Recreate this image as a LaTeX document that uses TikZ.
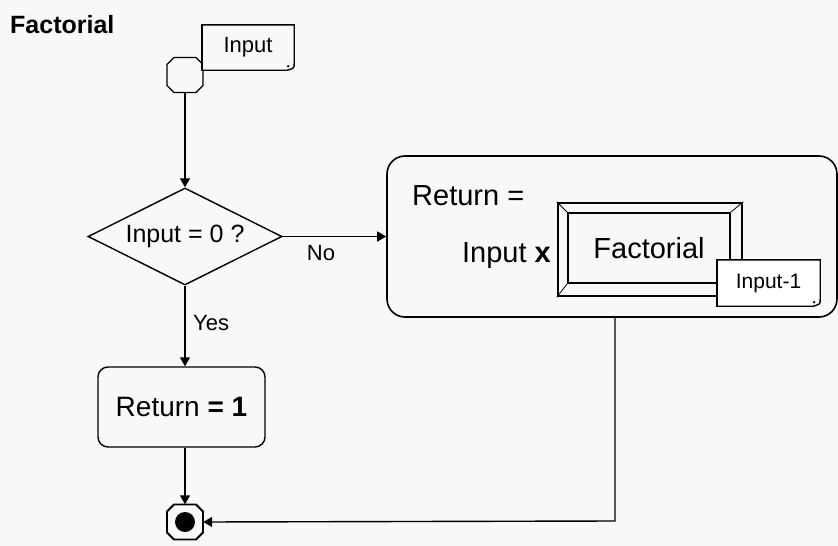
\documentclass[tikz,border=0pt]{standalone}
\usepackage{fontspec}
\setmainfont{Liberation Sans}
\usetikzlibrary{shapes.geometric,arrows.meta}
\definecolor{bgc}{HTML}{F8F8F6}
\newcommand{\fsz}[1]{\fontsize{#1}{#1}\selectfont}
\tikzset{
  ln/.style={line width=1.4pt, draw=black},
  arr/.style={line width=1.4pt, -{Triangle[width=10pt,length=9pt]}},
  octo/.style={rectangle, minimum width=36, minimum height=35, inner sep=0},
  notebox/.style={rectangle, inner sep=0, fill=bgc},
  lbl/.style={inner sep=0, text=black}
}
\newcommand{\octopath}[2]{%
  \draw[line width=#2] ([shift={(-11,-17.5)}]#1.center) -- ([shift={(11,-17.5)}]#1.center)
    -- ([shift={(18,-10.5)}]#1.center) -- ([shift={(18,10.5)}]#1.center)
    -- ([shift={(11,17.5)}]#1.center) -- ([shift={(-11,17.5)}]#1.center)
    -- ([shift={(-18,10.5)}]#1.center) -- ([shift={(-18,-10.5)}]#1.center) -- cycle;
}
\newcommand{\curlnote}[1]{%
  \draw[ln] (#1.south west) -- (#1.north west) -- (#1.north east) -- ([yshift=7pt]#1.south east)
    .. controls ([yshift=2pt]#1.south east) .. ([xshift=-7pt]#1.south east) -- cycle;
  \draw[line width=2.4pt] (#1.south west) -- (#1.north west);
  \fill ([xshift=-6pt,yshift=4pt]#1.south east) circle (1.3pt);
}
\begin{document}
\begin{tikzpicture}[x=1pt,y=-1pt]
  \fill[bgc] (0,0) rectangle (838,546);
  \useasboundingbox (0,0) rectangle (838,546);

  % title
  \node[lbl, anchor=base west] (title) at (10,33) {\fsz{25}\textbf{Factorial}};

  % start
  \node[octo] (start) at (185,75) {};
  \octopath{start}{1.4pt}
  \node[notebox, minimum width=92, minimum height=45] (inp) at (248,47.5) {\fsz{22}Input};
  \curlnote{inp}

  % decision
  \node[diamond, draw, line width=1.4pt, aspect=2, minimum width=194, minimum height=97, inner sep=0]
     (dec) at (185,236.5) {\fsz{25}Input = 0 ?};

  % big box
  \node[draw, line width=1.6pt, rounded corners=18pt, minimum width=450, minimum height=161, inner sep=0]
     (big) at (612,236.5) {};
  \node[lbl, anchor=base west] (rettxt) at (412,205) {\fsz{29}Return =};
  \node[lbl, anchor=base east] (inx) at (551,262) {\fsz{29}Input \textbf{x}};

  % factorial double box
  \node[draw, line width=2.6pt, minimum width=184, minimum height=93, inner sep=0] (fo) at (650,249.5) {};
  \node[draw, line width=2pt, minimum width=162, minimum height=70, inner sep=0] (fi) at (649,248) {\fsz{29}Factorial};
  \draw[line width=0.8pt] (fo.north west) -- (fi.north west);
  \draw[line width=0.8pt] (fo.north east) -- (fi.north east);
  \draw[line width=0.8pt] (fo.south west) -- (fi.south west);
  \draw[line width=0.8pt] (fo.south east) -- (fi.south east);

  \node[notebox, fill=white, minimum width=103, minimum height=46] (inm) at (768.5,283) {\fsz{21}Input-1};
  \curlnote{inm}

  % return 1
  \node[draw, line width=1.4pt, rounded corners=10pt, minimum width=167, minimum height=80, inner sep=0]
     (ret1) at (181.5,407) {\fsz{28}Return \textbf{= 1}};

  % end
  \node[octo] (fin) at (185,522) {};
  \octopath{fin}{1.8pt}
  \fill (fin.center) circle (10pt);
  \coordinate (bend) at (615,521);

  % connectors
  \draw[arr] (start) -- (dec);
  \draw[arr] (dec.east) -- (big.west);
  \node[lbl] (no) at (321,253) {\fsz{22}No};
  \draw[arr] (dec.south) -- (dec.south |- ret1.north);
  \node[lbl, anchor=west] (yes) at (193,323) {\fsz{22}Yes};
  \draw[arr] (ret1.south -| fin.north) -- (fin.north);
  \draw[arr] (big.south -| bend) -- (bend) -- (fin.east);
\end{tikzpicture}
\end{document}
